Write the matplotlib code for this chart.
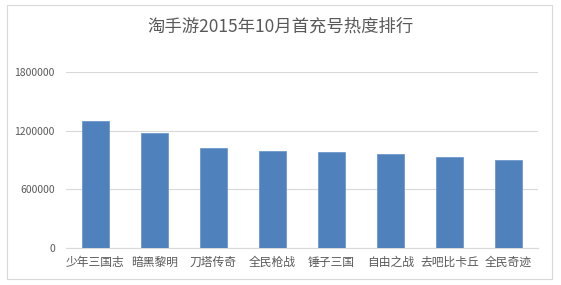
import matplotlib.pyplot as plt
from matplotlib.patches import Rectangle

plt.rcParams['font.family'] = ['Noto Sans CJK SC', 'DejaVu Sans']

games = ['少年三国志', '暗黑黎明', '刀塔传奇', '全民枪战', '锤子三国', '自由之战', '去吧比卡丘', '全民奇迹']
values = [1300000, 1180000, 1022000, 995000, 978000, 957000, 930000, 899000]
yticks = [0, 600000, 1200000, 1800000]

W, H = 561, 285
fig = plt.figure(figsize=(W / 100, H / 100), dpi=100)

# excel-ish chart frame
fig.patches.append(Rectangle((7 / W, 1 - 279 / H), 545 / W, 274 / H, transform=fig.transFigure,
                             facecolor='white', edgecolor='#d9d9d9', linewidth=0.8, zorder=-1))

ax = fig.add_axes([66 / W, 1 - 247.7 / H, 472 / W, 175.7 / H])
ax.set_facecolor('none')
x = range(len(games))
ax.bar(x, values, width=0.45, color='#4f81bd', edgecolor='#6d98cc', linewidth=0.6, zorder=3)

ax.set_xlim(-0.5, len(games) - 0.5)
ax.set_ylim(0, 1800000)
ax.set_yticks(yticks)
ax.set_yticklabels([str(v) for v in yticks])
ax.set_xticks(list(x))
ax.set_xticklabels(games)
ax.grid(axis='y', color='#d9d9d9', linewidth=0.8, zorder=0)
for s in ['top', 'right', 'left']:
    ax.spines[s].set_visible(False)
ax.spines['bottom'].set_color('#d9d9d9')
ax.spines['bottom'].set_linewidth(0.8)
ax.tick_params(axis='both', length=0, colors='#595959', labelsize=8.5)
ax.tick_params(axis='y', pad=8, labelsize=7.5)
ax.tick_params(axis='x', pad=6)

fig.text(0.5, 1 - 27 / H, '淘手游2015年10月首充号热度排行', ha='center', va='center',
         fontsize=12.5, color='#595959')

fig.savefig('out.png', dpi=100)
